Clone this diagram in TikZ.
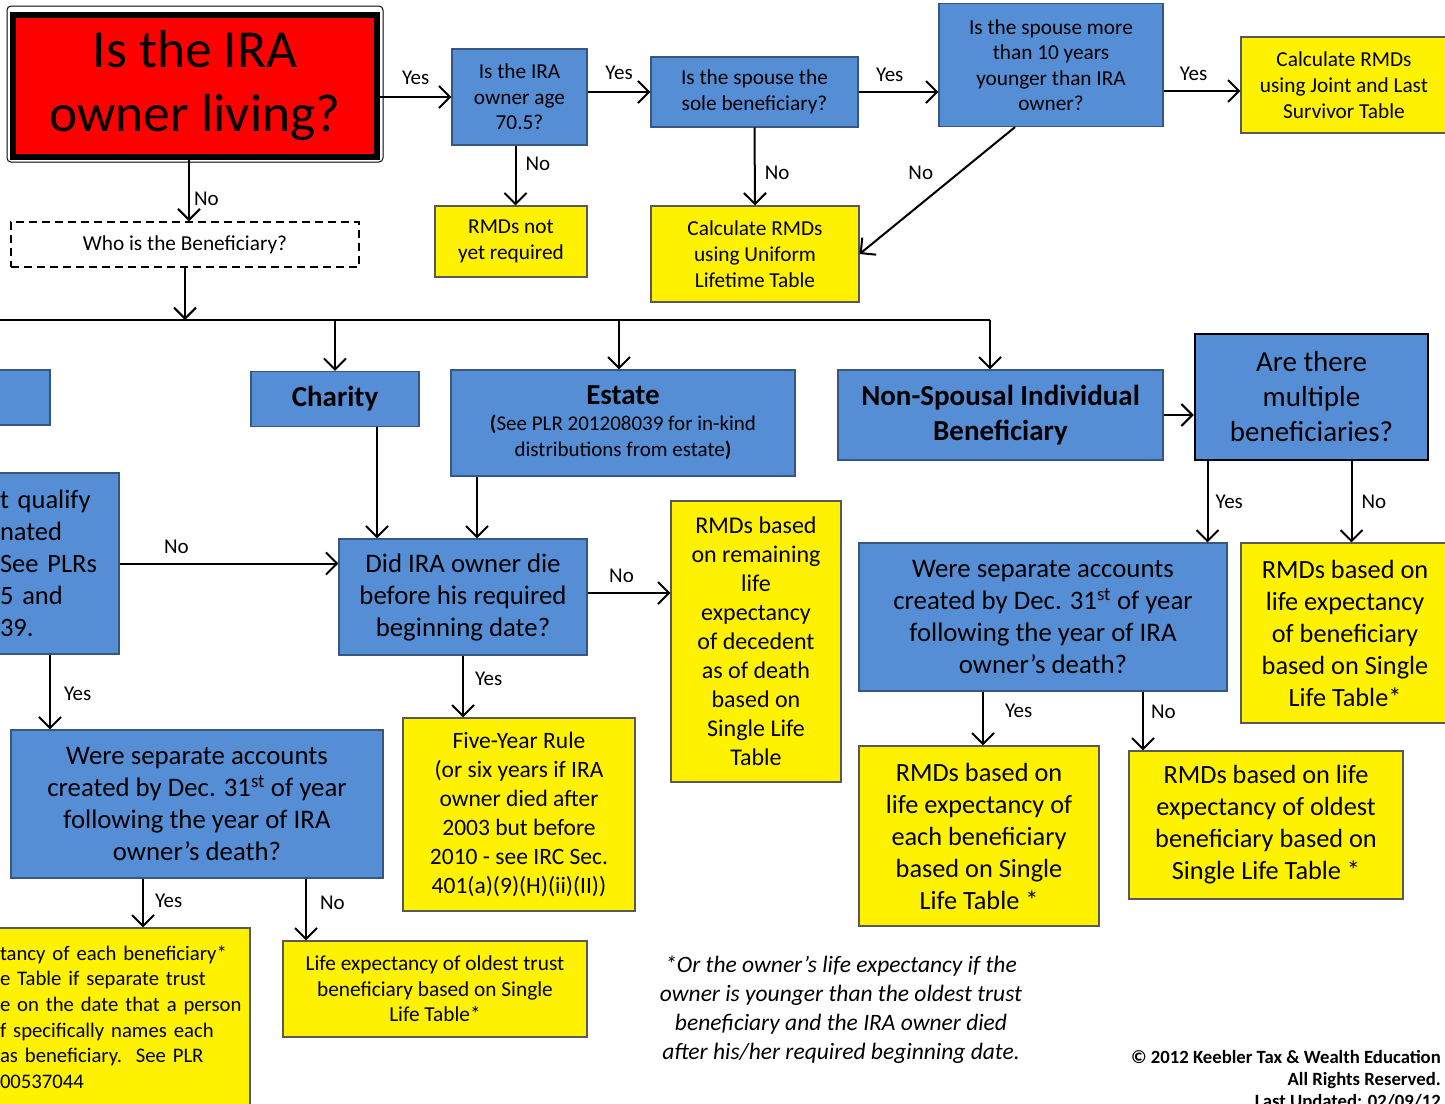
\documentclass[tikz,border=0pt]{standalone}
\usepackage{fontspec}
\setmainfont{Carlito}
\usetikzlibrary{arrows.meta, positioning}
\definecolor{boxblue}{RGB}{85,142,213}
\definecolor{boxedge}{RGB}{56,86,130}
\tikzstyle{question_node} = [rectangle, draw=boxedge, fill=boxblue, line width=1.2pt, align=center, inner sep=0pt]
\tikzstyle{result_node} = [rectangle, draw=black!65, fill=yellow, line width=1.2pt, align=center, inner sep=0pt]
\tikzstyle{flow_arrow} = [line width=2pt, -{Straight Barb[length=11pt, width=22pt]}]
\tikzstyle{flow_label} = [font=\fontsize{21}{25}\selectfont, inner sep=1pt]

\begin{document}
\begin{tikzpicture}[x=1pt, y=-1pt]
    \useasboundingbox (0,0) rectangle (1445,1103);
    \clip (0,0) rectangle (1445,1103);
    \fill[white] (0,0) rectangle (1445,1103);

    % top row: owner living
    \node (live) [rectangle, draw=black, fill=red, line width=6pt, minimum width=364pt, minimum height=142pt, align=center, font=\fontsize{53.5}{64}\selectfont] at (195,86) {Is the IRA\\owner living?};
    \draw[line width=1pt, rounded corners=4pt] (7,6) rectangle (383,162);
    \node (age) [question_node, minimum width=135pt, minimum height=96pt, font=\fontsize{21.3}{25.5}\selectfont] at (519.5,97) {Is the IRA\\owner age\\70.5?};
    \node (sole) [question_node, minimum width=207pt, minimum height=70pt, font=\fontsize{21.3}{25.5}\selectfont] at (754.5,92) {Is the spouse the\\sole beneficiary?};
    \node (younger) [question_node, minimum width=224pt, minimum height=123pt, font=\fontsize{21.3}{25.5}\selectfont] at (1051,65) {Is the spouse more\\than 10 years\\younger than IRA\\owner?};
    \node (joint) [result_node, minimum width=206pt, minimum height=96pt, font=\fontsize{21.3}{26}\selectfont] at (1344,85) {Calculate RMDs\\using Joint and Last\\Survivor Table};
    \node (notreq) [result_node, minimum width=152pt, minimum height=71pt, font=\fontsize{21.3}{26}\selectfont] at (511,241.5) {RMDs not\\yet required};
    \node (uniform) [result_node, minimum width=208pt, minimum height=96pt, font=\fontsize{21.3}{26}\selectfont] at (755,254) {Calculate RMDs\\using Uniform\\Lifetime Table};
    \node (who) [rectangle, draw=black, dash pattern=on 8pt off 5pt, line width=1.5pt, minimum width=348pt, minimum height=45pt, font=\fontsize{21.3}{25}\selectfont] at (185,244.5) {Who is the Beneficiary?};

    \draw [flow_arrow] (live.east |- age.west) -- node[flow_label, above=10pt] {Yes} (age.west);
    \draw [flow_arrow] (age.east |- sole.west) -- node[flow_label, above=10pt] {Yes} (sole.west);
    \draw [flow_arrow] (sole.east) -- node[flow_label, above=8pt, pos=0.39] {Yes} (sole.east -| younger.west);
    \draw [flow_arrow] (younger.east |- 0,91) -- node[flow_label, above=8pt, pos=0.39] {Yes} (joint.west |- 0,91);
    \draw [flow_arrow] ([xshift=-4pt]age.south) -- node[flow_label, right=8pt, pos=0.3] {No} ([xshift=-4pt]age.south |- notreq.north);
    \draw [flow_arrow] (sole.south) -- node[flow_label, right=8pt, pos=0.58] {No} (uniform.north);
    \draw [flow_arrow] ([xshift=-36pt]younger.south) -- node[flow_label, left=24pt, pos=0.36] {No} (uniform.east);
    \draw [flow_arrow] ([xshift=-6pt]live.south) -- node[flow_label, right=3pt, pos=0.63] {No} ([xshift=-6pt]live.south |- who.north);

    % beneficiary bus
    \coordinate (bus_l) at (0,320);
    \coordinate (bus_r) at (990,320);
    \draw [flow_arrow] (who.south) -- (who.south |- bus_l);
    \draw [line width=2pt] (bus_l) -- (bus_r);

    % second row
    \node (spouse) [question_node, minimum width=60pt, minimum height=55pt] at (20,397.5) {};
    \node (charity) [question_node, minimum width=168pt, minimum height=55pt, font=\fontsize{29}{35}\selectfont\bfseries] at (335,399) {Charity};
    \node (estate) [question_node, minimum width=344pt, minimum height=106pt, font=\fontsize{21}{26}\selectfont] at (623,423) {{\fontsize{29}{33}\selectfont\bfseries Estate}\\{\bfseries(}See PLR 201208039 for in-kind\\distributions from estate{\bfseries)}};
    \node (nonsp) [question_node, minimum width=325pt, minimum height=90pt, font=\fontsize{29}{35}\selectfont\bfseries] at (1000.5,415) {Non-Spousal Individual\\Beneficiary};
    \node (multi) [question_node, draw=black, line width=2.5pt, minimum width=233pt, minimum height=126pt, font=\fontsize{29}{35}\selectfont] at (1311.5,397) {Are there\\multiple\\beneficiaries?};

    \draw [flow_arrow] (charity.north |- bus_l) -- (charity.north);
    \draw [flow_arrow] ([xshift=-4pt]estate.north |- bus_l) -- ([xshift=-4pt]estate.north);
    \draw [flow_arrow] (bus_r) -- (bus_r |- nonsp.north);
    \draw [flow_arrow] (nonsp.east) -- (nonsp.east -| multi.west);

    % trust branch
    \node (trust) [question_node, minimum width=138pt, minimum height=181pt, text width=100pt, inner xsep=19pt, align=left, font=\fontsize{26.5}{32}\selectfont] at (50,563.5) {t qualify\\nated\\See PLRs\\5 and\\39.};
    \node (did) [question_node, minimum width=248pt, minimum height=116pt, font=\fontsize{26.8}{32}\selectfont] at (463,597) {Did IRA owner die\\before his required\\beginning date?};
    \node (remain) [result_node, minimum width=170pt, minimum height=281pt, font=\fontsize{24}{29}\selectfont] at (756,641.5) {RMDs based\\on remaining\\life\\expectancy\\of decedent\\as of death\\based on\\Single Life\\Table};
    \node (fiveyr) [result_node, minimum width=232pt, minimum height=193pt, font=\fontsize{23.5}{29}\selectfont] at (519,814.5) {Five-Year Rule\\(or six years if IRA\\owner died after\\2003 but before\\2010 - see IRC Sec.\\401(a)(9)(H)(ii)(II))};
    \node (were_l) [question_node, minimum width=372pt, minimum height=148pt, font=\fontsize{26.8}{32}\selectfont] at (197,804) {Were separate accounts\\created by Dec. 31\textsuperscript{st} of year\\following the year of IRA\\owner’s death?};
    \node (eachtrust) [result_node, minimum width=255pt, minimum height=178pt, text width=245pt, inner xsep=5pt, align=left, font=\fontsize{20.7}{25.6}\selectfont] at (122.5,1017) {tancy of each beneficiary*\\e Table if separate trust\\e on the date that a person\\f specifically names each\\as beneficiary.\ \ See PLR\\00537044};
    \node (oldtrust) [result_node, minimum width=304pt, minimum height=96pt, font=\fontsize{21.3}{25.6}\selectfont] at (435,989) {Life expectancy of oldest trust\\beneficiary based on Single\\Life Table*};

    \draw [flow_arrow] ([xshift=42pt]charity.south) -- ([xshift=42pt]charity.south |- did.north);
    \draw [flow_arrow] ([xshift=-146pt]estate.south) -- ([xshift=-146pt]estate.south |- did.north);
    \draw [flow_arrow] (trust.east) -- node[flow_label, above=8pt, pos=0.26] {No} (trust.east -| did.west);
    \draw [flow_arrow] (trust.south) -- node[flow_label, right=12pt, pos=0.53] {Yes} (trust.south |- were_l.north);
    \draw [flow_arrow] (did.east |- 0,593) -- node[flow_label, above=8pt, pos=0.41] {No} (remain.west |- 0,593);
    \draw [flow_arrow] (did.south) -- node[flow_label, right=10pt, pos=0.37] {Yes} (did.south |- fiveyr.north);
    \draw [flow_arrow] ([xshift=-54pt]were_l.south) -- node[flow_label, right=10pt, pos=0.46] {Yes} ([xshift=-54pt]were_l.south |- eachtrust.north);
    \draw [flow_arrow] ([xshift=109pt]were_l.south) -- node[flow_label, right=12pt, pos=0.39] {No} ([xshift=109pt]were_l.south |- oldtrust.north);

    % individual branch
    \node (were_r) [question_node, minimum width=368pt, minimum height=148pt, font=\fontsize{26.8}{32}\selectfont] at (1043,617) {Were separate accounts\\created by Dec. 31\textsuperscript{st} of year\\following the year of IRA\\owner’s death?};
    \node (single) [result_node, minimum width=208pt, minimum height=180pt, font=\fontsize{26.3}{32}\selectfont] at (1345,633) {RMDs based on\\life expectancy\\of beneficiary\\based on Single\\Life Table*};
    \node (each_r) [result_node, minimum width=240pt, minimum height=180pt, font=\fontsize{26.3}{32}\selectfont] at (979,836) {RMDs based on\\life expectancy of\\each beneficiary\\based on Single\\Life Table *};
    \node (oldest_r) [result_node, minimum width=274pt, minimum height=148pt, font=\fontsize{26.3}{32}\selectfont] at (1266,825) {RMDs based on life\\expectancy of oldest\\beneficiary based on\\Single Life Table *};

    \draw [flow_arrow] ([xshift=-104pt]multi.south) -- node[flow_label, right=6pt, pos=0.5] {Yes} ([xshift=-104pt]multi.south |- were_r.north);
    \draw [flow_arrow] ([xshift=40pt]multi.south) -- node[flow_label, right=8pt, pos=0.5] {No} ([xshift=40pt]multi.south |- single.north);
    \draw [flow_arrow] ([xshift=-60pt]were_r.south) -- node[flow_label, right=20pt, pos=0.35] {Yes} ([xshift=-60pt]were_r.south |- each_r.north);
    \draw [flow_arrow] ([xshift=100pt]were_r.south) -- node[flow_label, right=6pt, pos=0.35] {No} ([xshift=100pt]were_r.south |- oldest_r.north);

    % footnote and copyright
    \node (note) [align=center, font=\fontsize{23.5}{29}\selectfont\itshape] at (841,1010) {*Or the owner’s life expectancy if the\\owner is younger than the oldest trust\\beneficiary and the IRA owner died\\after his/her required beginning date.};
    \node (copy) [anchor=north east, align=right, inner sep=0pt, font=\fontsize{18.7}{22}\selectfont\bfseries] at (1441,1050) {© 2012 Keebler Tax \& Wealth Education\\All Rights Reserved.\\Last Updated: 02/09/12};
\end{tikzpicture}
\end{document}
